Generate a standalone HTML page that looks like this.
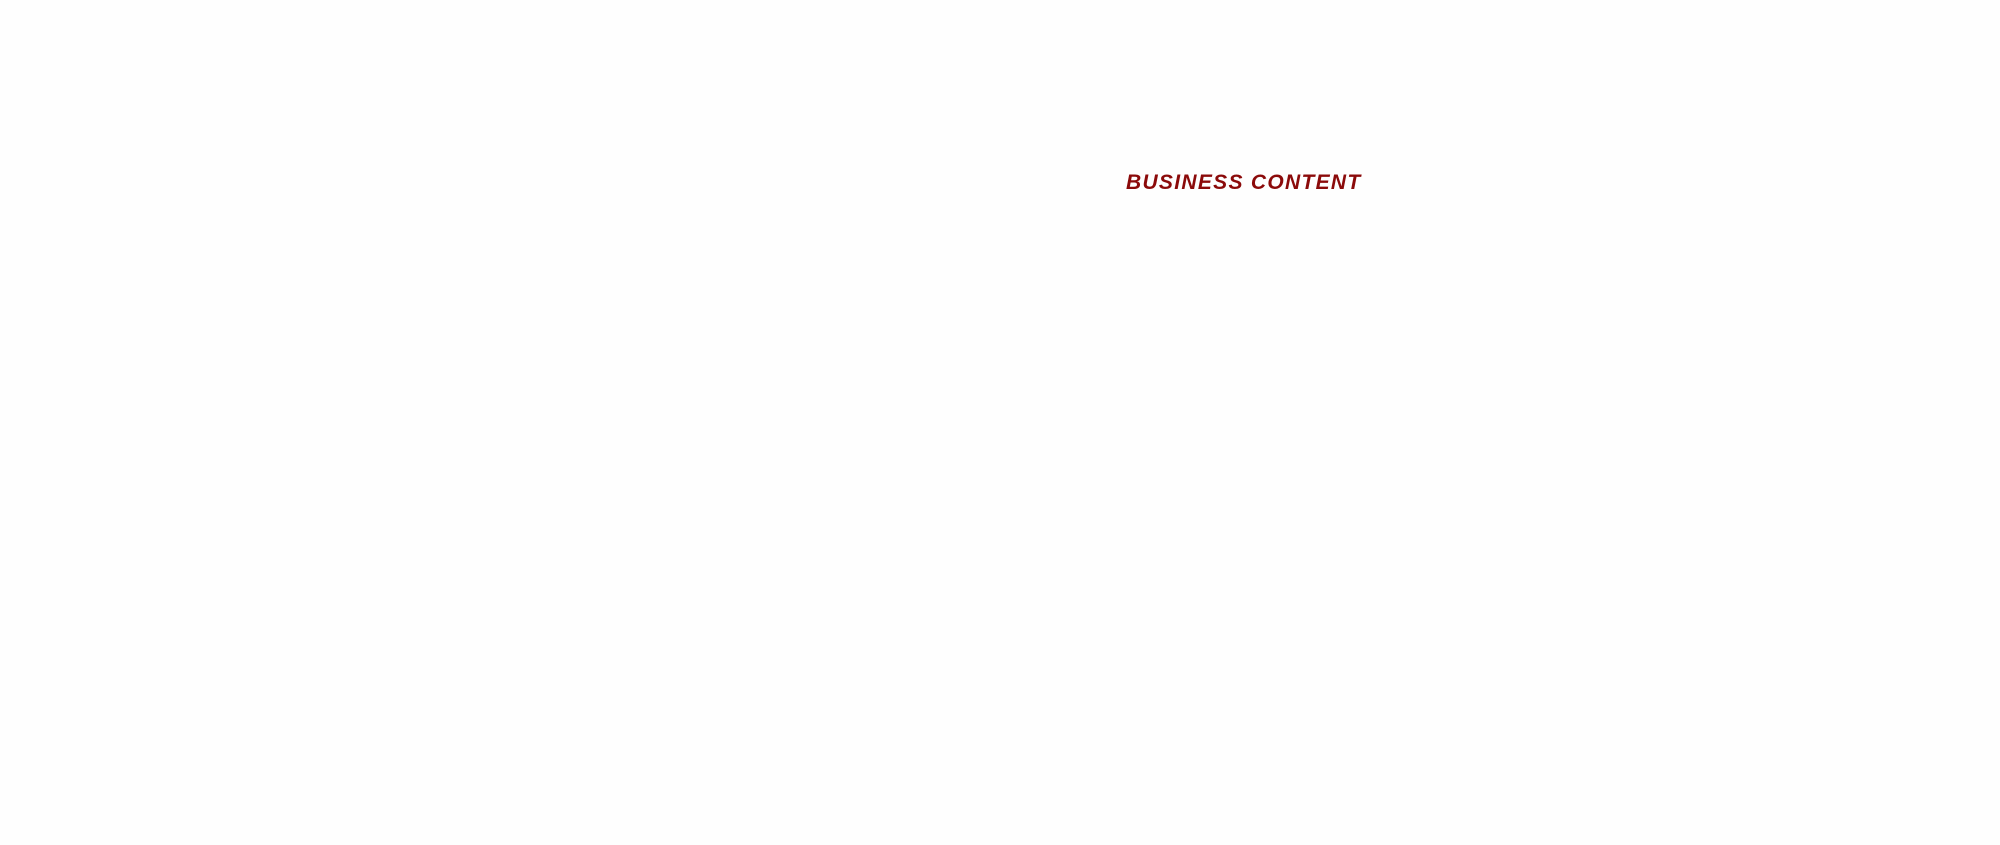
<!DOCTYPE html>
<html><head><meta charset="utf-8"><style>
html,body{margin:0;padding:0;background:#fefefe;width:2000px;height:845px;overflow:hidden;position:relative}
.t{position:absolute;left:1126px;top:171px;font-family:"Liberation Sans",sans-serif;font-weight:bold;font-style:italic;font-size:21px;color:#8b0a0a;white-space:nowrap;letter-spacing:1.3px;line-height:24px}
</style></head><body>
<div class="t">BUSINESS CONTENT</div>
</body></html>
